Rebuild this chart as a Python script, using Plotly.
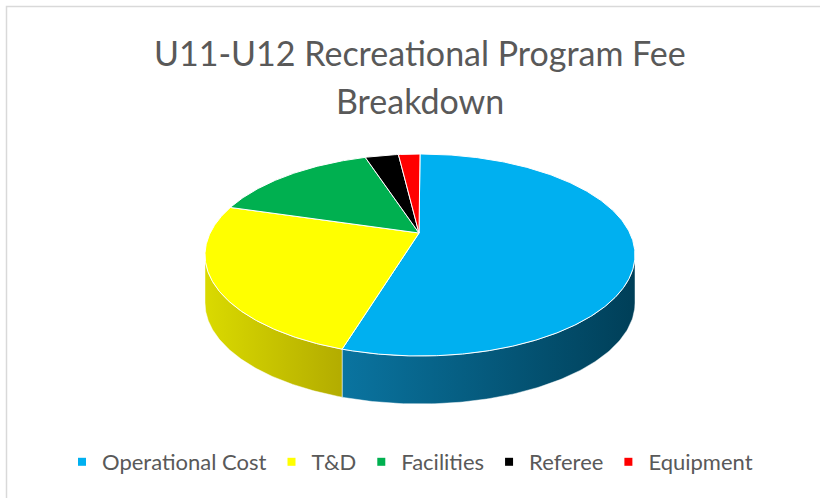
import numpy as np
import plotly.graph_objects as go

# ---- data ----
categories = ["Operational Cost", "T&D", "Facilities", "Referee", "Equipment"]
values = [55.9, 26.9, 13.1, 2.5, 1.6]
top_colors = ["#00B0F0", "#FFFF00", "#00B050", "#000000", "#FF0000"]
side_colors = [("#0A74A0", "#003F58"), ("#DADA00", "#B3AC00"),
               ("#008A3E", "#006A30"), ("#000000", "#000000"), ("#C00000", "#900000")]
title_lines = ["U11-U12 Recreational Program Fee", "Breakdown"]

# ---- geometry (pixel space of the 820x498 page) ----
W, H = 820, 498
CX, CY, RX, RY = 420, 255, 215, 101
APX, APY = 419, 233
DEPTH = 48


def ell(t_deg, dy=0.0):
    t = np.radians(t_deg)
    return CX + RX * np.sin(t), CY - RY * np.cos(t) + dy


total = sum(values)
bounds = np.concatenate([[0], np.cumsum(values) / total * 360.0])

fig = go.Figure()

# side walls (visible front half: 90..270 deg)
for i, name in enumerate(categories):
    a0, a1 = bounds[i], bounds[i + 1]
    s0, s1 = max(a0, 90), min(a1, 270)
    if s1 <= s0:
        continue
    ts = np.linspace(s0, s1, 120)
    xt, yt = ell(ts)
    xb, yb = ell(ts[::-1], DEPTH)
    xs = np.concatenate([xt, xb, xt[:1]])
    ys = np.concatenate([yt, yb, yt[:1]])
    c1, c2 = side_colors[i]
    fig.add_trace(go.Scatter(
        x=xs, y=ys, mode="lines", fill="toself",
        line=dict(color="rgba(255,255,255,0.6)", width=0.8),
        fillgradient=dict(type="horizontal", colorscale=[[0, c1], [1, c2]]),
        hoverinfo="skip", showlegend=False))

# top faces
for i, name in enumerate(categories):
    a0, a1 = bounds[i], bounds[i + 1]
    ts = np.linspace(a0, a1, max(int((a1 - a0) * 2), 4))
    xa, ya = ell(ts)
    xs = np.concatenate([[APX], xa, [APX]])
    ys = np.concatenate([[APY], ya, [APY]])
    fig.add_trace(go.Scatter(
        x=xs, y=ys, mode="lines", fill="toself", fillcolor=top_colors[i],
        line=dict(color="white", width=1),
        hoverinfo="skip", showlegend=False))

# legend entries
for i, name in enumerate(categories):
    fig.add_trace(go.Scatter(
        x=[None], y=[None], mode="markers", name=name,
        marker=dict(symbol="square", size=8, color=top_colors[i])))

annotations = [
    dict(x=CX, y=52, text=title_lines[0]),
    dict(x=CX, y=100, text=title_lines[1]),
]
for a in annotations:
    a.update(xref="x", yref="y", showarrow=False, xanchor="center", yanchor="middle",
             font=dict(family="Lato", size=34, color="#595959"))

fig.update_layout(
    width=W, height=H,
    margin=dict(l=0, r=0, t=0, b=0),
    paper_bgcolor="white", plot_bgcolor="white",
    xaxis=dict(range=[0, W], visible=False, fixedrange=True),
    yaxis=dict(range=[H, 0], visible=False, fixedrange=True),
    showlegend=True,
    legend=dict(orientation="h", x=0.5, xanchor="center", y=1 - 462 / H, yanchor="middle",
                font=dict(family="Lato", size=22, color="#595959"),
                bgcolor="rgba(0,0,0,0)", itemclick=False, itemdoubleclick=False),
    annotations=annotations,
    shapes=[dict(type="rect", xref="x", yref="y", x0=6.5, y0=6.5, x1=W + 20, y1=H + 20,
                 line=dict(color="#D9D9D9", width=1.5), layer="below")],
    hovermode=False,
)

fig.write_html("out.html", config={"displayModeBar": False})
